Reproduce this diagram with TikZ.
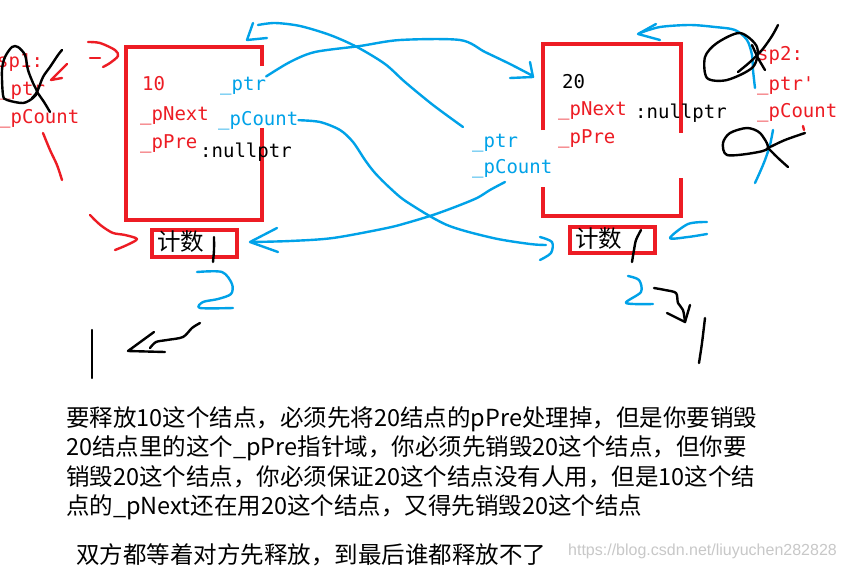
\documentclass[tikz,border=0pt]{standalone}
\usepackage{fontspec}
\usepackage{tikz}
\usetikzlibrary{arrows.meta, positioning, calc}
\newfontfamily\codefont{DejaVu Sans Mono}
\newfontfamily\cjk{Noto Sans CJK SC}
\newfontfamily\webfont{Liberation Sans}
\definecolor{pred}{RGB}{237,28,36}
\definecolor{pblue}{RGB}{0,162,232}
\definecolor{wmark}{RGB}{200,200,200}

\begin{document}
\begin{tikzpicture}[x=1pt,y=-1pt,
  boxline/.style={draw=pred, line width=4pt},
  codetxt/.style={font=\codefont\fontsize{19}{20}\selectfont, inner sep=0pt, anchor=base west},
  redtxt/.style={codetxt, text=pred},
  bluetxt/.style={codetxt, text=pblue},
  blacktxt/.style={codetxt, text=black},
  notetxt/.style={font=\cjk\fontsize{23.5}{25}\selectfont, inner sep=0pt, anchor=base west},
  penline/.style={line width=2.4pt, line cap=round, line join=round},
  redpen/.style={penline, draw=pred},
  bluepen/.style={penline, draw=pblue},
  blackpen/.style={penline, draw=black}]
  \fill[white] (0,0) rectangle (844,568);
  \useasboundingbox (0,0) rectangle (844,568);
  \clip (0,0) rectangle (844,568);

  % node 10
  \draw[boxline] (262,66) -- (262,47) -- (126,47) -- (126,220) -- (262,220) -- (262,128);
  \draw[boxline] (152,230) rectangle (237,257);
  \node[redtxt] (v10) at (142,90) {10};
  \node[redtxt] (next1) at (140,120) {\_pNext};
  \node[redtxt] (pre1) at (140,148) {\_pPre};
  \node[blacktxt] (null1) at (200,157) {:nullptr};
  \node[bluetxt] (lptr) at (220,90) {\_ptr};
  \node[bluetxt] (lcnt) at (218,125) {\_pCount};
  \node[notetxt] (cnt1) at (157,250) {计数};

  % node 20
  \draw[boxline] (543,130) -- (543,44) -- (681,44) -- (681,133);
  \draw[boxline] (681,178) -- (681,216) -- (543,216) -- (543,187);
  \draw[boxline] (570,227) rectangle (655,253);
  \node[blacktxt] (v20) at (562,88) {20};
  \node[redtxt] (next2) at (558,115) {\_pNext};
  \node[blacktxt] (null2) at (635,118) {:nullptr};
  \node[redtxt] (pre2) at (558,143) {\_pPre};
  \node[bluetxt] (rptr) at (472,147) {\_ptr};
  \node[bluetxt] (rcnt) at (472,173) {\_pCount};
  \node[notetxt] (cnt2) at (575,247) {计数};

  % sp1 / sp2
  \node[redtxt] (sp1) at (-3,67) {sp1:};
  \node[redtxt] (sp1ptr) at (-1,95) {\_ptr};
  \node[redtxt] (sp1cnt) at (-1,123) {\_pCount};
  \node[redtxt] (sp2) at (757,60) {sp2:};
  \node[redtxt] (sp2ptr) at (757,90) {\_ptr'};
  \node[redtxt] (sp2cnt) at (757,117) {\_pCount};

  % blue pointers
  \draw[bluepen] plot[smooth] coordinates {(lptr.north east) (290,62) (315,52) (360,46) (400,40) (460,40) (485,52) (510,64) (533,76)};
  \draw[bluepen] (530,62) -- (533,77) -- (510,78);
  \draw[bluepen] plot[smooth] coordinates {(463,127) (433,105) (405,82) (385,64) (357,47) (330,35) (300,26) (275,23) (258,25)};
  \draw[bluepen] (253,23) -- (247,40) -- (267,38);
  \draw[bluepen] plot[smooth] coordinates {(lcnt.east) (320,122) (340,130) (353,142) (365,160) (375,173) (390,188) (407,202) (447,225) (493,238) (530,244) (546,245)};
  \draw[bluepen] plot[smooth] coordinates {(540,237) (552,242) (551,253) (540,260)};
  \draw[bluepen] plot[smooth] coordinates {(505,182) (490,190) (477,198) (455,207) (433,215) (410,222) (387,228) (333,238) (290,241) (252,242)};
  \draw[bluepen] (277,228) -- (250,242) -- (278,252);
  \draw[bluepen] plot[smooth] coordinates {(755,88) (753,70) (752,55) (747,40) (735,30) (715,27) (690,25) (660,27) (640,33)};
  \draw[bluepen] (656,24) -- (638,34) -- (660,40);
  \draw[bluepen] plot[smooth] coordinates {(773,130) (770,145) (765,160) (760,172) (755,183)};
  \draw[bluepen] plot[smooth] coordinates {(707,222) (688,224) (670,238) (688,237) (707,234)};
  \draw[bluepen] plot[smooth] coordinates {(197,272) (222,272) (232,284) (231,294) (218,299) (203,302) (200,308) (233,308)};
  \draw[bluepen] plot[smooth] coordinates {(628,276) (639,280) (641,292) (626,303) (653,304)};

  % red marks
  \draw[redpen] plot[smooth] coordinates {(88,42) (100,43) (115,50) (118,56) (110,63) (103,67)};
  \draw[redpen] (90,58) -- (100,58);
  \draw[redpen] (67,64) -- (51,80) -- (62,78);
  \draw[redpen] plot[smooth] coordinates {(43,133) (50,150) (57,165) (62,180)};
  \draw[redpen] plot[smooth] coordinates {(90,215) (97,222) (103,227) (113,233) (125,235) (137,239) (127,245) (115,250)};
  \draw[redpen] (803,126) -- (804,130);

  % black scribbles
  \draw[blackpen] plot[smooth cycle] coordinates {(3,95) (2,70) (5,57) (12,47) (18,47) (25,55) (28,70) (33,83) (37,92) (33,98) (23,103) (7,100)};
  \draw[blackpen] plot[smooth] coordinates {(62,50) (58,55) (50,67) (43,77) (37,92) (32,98)};
  \draw[blackpen] plot[smooth] coordinates {(37,92) (44,102) (50,112)};
  \draw[blackpen] plot[smooth cycle] coordinates {(740,33) (717,43) (705,57) (707,78) (727,80) (753,67) (757,47)};
  \draw[blackpen] plot[smooth] coordinates {(778,25) (772,36) (762,50) (750,62) (738,72)};
  \draw[blackpen] plot[smooth] coordinates {(752,45) (758,58) (765,70)};
  \draw[blackpen] plot[smooth cycle] coordinates {(730,133) (723,143) (727,155) (753,153) (768,148) (760,133) (747,128)};
  \draw[blackpen] plot[smooth] coordinates {(768,148) (785,140) (805,133)};
  \draw[blackpen] plot[smooth] coordinates {(768,148) (778,158) (788,167)};
  \draw[blackpen] plot[smooth] coordinates {(214,237) (214,250) (213,262)};
  \draw[blackpen] plot[smooth] coordinates {(641,230) (636,240) (634,250) (632,262)};
  \draw[blackpen] plot[smooth] coordinates {(200,323) (192,328) (183,337) (167,340) (156,342) (150,348)};
  \draw[blackpen] (154,332) -- (128,351) -- (165,352);
  \draw[blackpen] (92,330) -- (92,378);
  \draw[blackpen] plot[smooth] coordinates {(654,288) (665,290) (676,293) (678,303) (683,310) (685,322)};
  \draw[blackpen] (667,313) -- (685,322) -- (690,305);
  \draw[blackpen] plot[smooth] coordinates {(705,318) (702,343) (699,363)};

  % explanation
  \node[notetxt] (l1) at (66,426) {要释放10这个结点，必须先将20结点的pPre处理掉，但是你要销毁};
  \node[notetxt] (l2) at (66,455) {20结点里的这个\_pPre指针域，你必须先销毁20这个结点，但你要};
  \node[notetxt] (l3) at (66,485) {销毁20这个结点，你必须保证20这个结点没有人用，但是10这个结};
  \node[notetxt] (l4) at (66,514) {点的\_pNext还在用20这个结点，又得先销毁20这个结点};
  \node[notetxt] (l5) at (76,563) {双方都等着对方先释放，到最后谁都释放不了};
  \node[font=\webfont\fontsize{16}{18}\selectfont, text=wmark, inner sep=0pt, anchor=base west] (wm) at (568,555) {https://blog.csdn.net/liuyuchen282828};
\end{tikzpicture}
\end{document}
